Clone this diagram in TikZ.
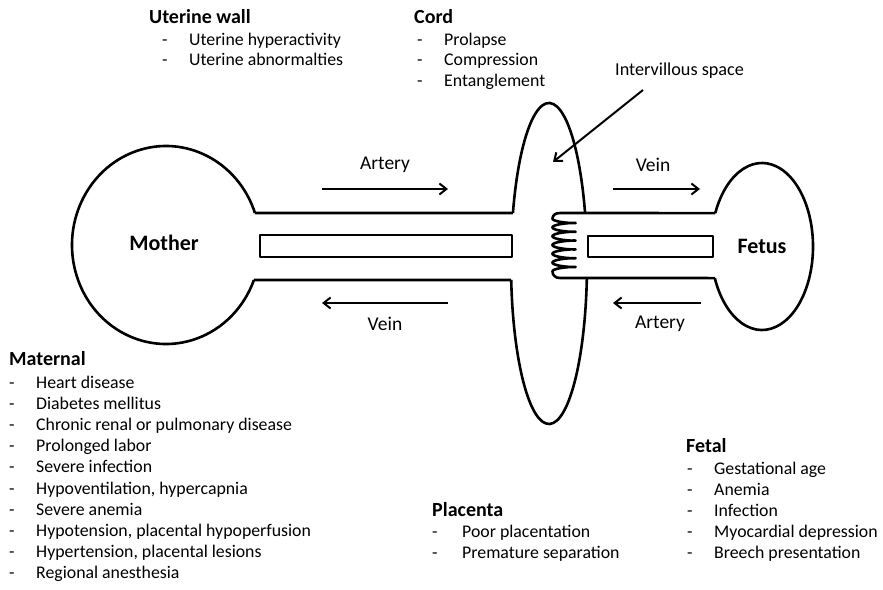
\documentclass[tikz,border=0pt]{standalone}
\usepackage{fontspec}
\setmainfont{Carlito}
\usetikzlibrary{arrows.meta,calc}
\begin{document}
\begin{tikzpicture}[x=1pt,y=-1pt,
  outline/.style={line width=2.6pt,line join=round},
  flow/.style={line width=2pt,-{Straight Barb[length=7pt,width=11pt]}},
  lst/.style={anchor=base west,inner sep=0pt,font=\fontsize{17.8}{21}\selectfont},
  hdr/.style={anchor=base west,inner sep=0pt,font=\fontsize{20}{24}\selectfont\bfseries},
  lbl/.style={anchor=base,inner sep=0pt,font=\fontsize{19.5}{23}\selectfont},
  big/.style={anchor=base,inner sep=0pt,font=\fontsize{22}{26}\selectfont\bfseries}]
\useasboundingbox (0,0) rectangle (883,589);

% centres
\coordinate (mc) at (166,245);
\coordinate (pc) at (549,263.5);
\coordinate (fc) at (762,246.5);

% mother
\draw[outline] (mc) ++(-18.86:94 and 99) coordinate (mT)
  arc[start angle=-18.86,end angle=-339.3,x radius=94,y radius=99] coordinate (mB);
% placenta
\draw[outline] (pc) ++(198.34:38 and 160.5) coordinate (pLT)
  arc[start angle=198.34,end angle=341.66,x radius=38,y radius=160.5];
\draw[outline] (pc) ++(5.18:38 and 160.5)
  arc[start angle=5.18,end angle=174.1,x radius=38,y radius=160.5] coordinate (pLB);
% fetus
\draw[outline] (fc) ++(203.6:51 and 83.5) coordinate (fT)
  arc[start angle=203.6,end angle=517.8,x radius=51,y radius=83.5] coordinate (fB);

% maternal tube
\draw[outline] (mT) -- (pLT);
\draw[outline] (mB) -- (pLB);
\draw[outline] (260,235) rectangle (512,257);

% fetal tube with coil
\draw[outline] (fT) -- (560,213) .. controls (555,213) and (552.5,215.5) .. (552.5,218.6)
  -- plot[domain=-3.14159:34.5575,samples=400,variable=\t]
     ({564+11.5*cos(\t r)},{223+1.4*\t-1.6*sin(\t r)})
  .. controls (552.5,275) and (555,278) .. (560,278) -- (fB);
\draw[outline] (588,236) rectangle (713,257);

% flow arrows
\coordinate (a1s) at (322,189); \coordinate (a1e) at (448,189);
\coordinate (a2s) at (448,303); \coordinate (a2e) at (322,303);
\coordinate (a3s) at (613,189); \coordinate (a3e) at (700,189);
\coordinate (a4s) at (701,303); \coordinate (a4e) at (613,303);
\draw[flow] (a1s) -- (a1e);
\draw[flow] (a2s) -- (a2e);
\draw[flow] (a3s) -- (a3e);
\draw[flow] (a4s) -- (a4e);
\node[lbl] (l1) at (385,169) {Artery};
\node[lbl] (l2) at (385,330) {Vein};
\node[lbl] (l3) at (653,171) {Vein};
\node[lbl] (l4) at (660,328) {Artery};

% intervillous space
\node[anchor=base west,inner sep=0pt,font=\fontsize{18.2}{22}\selectfont] (iv) at (615,75) {Intervillous space};
\coordinate (ivs) at (643,90);
\coordinate (ive) at (553,162);
\draw[flow] (ivs) -- (ive);

% centre labels
\node[big] (mother) at (164,250) {Mother};
\node[big] (fetus) at (762,253) {Fetus};

% uterine wall
\node[hdr] (uw) at (149,23.5) {Uterine wall};
\foreach \t [count=\i from 0] in {Uterine hyperactivity,Uterine abnormalties}{
  \node[lst] (uwd\i) at (162,{45+20.5*\i}) {-};
  \node[lst] (uwi\i) at (189,{45+20.5*\i}) {\t};}

% cord
\node[hdr] (cd) at (414,23.5) {Cord};
\foreach \t [count=\i from 0] in {Prolapse,Compression,Entanglement}{
  \node[lst] (cdd\i) at (417,{45+20.5*\i}) {-};
  \node[lst] (cdi\i) at (444,{45+20.5*\i}) {\t};}

% maternal
\node[hdr] (mat) at (9,365.5) {Maternal};
\foreach \t [count=\i from 0] in {Heart disease,Diabetes mellitus,Chronic renal or pulmonary disease,Prolonged labor,Severe infection,{Hypoventilation, hypercapnia},Severe anemia,{Hypotension, placental hypoperfusion},{Hypertension, placental lesions},Regional anesthesia}{
  \node[lst] (matd\i) at (9,{388+21.2*\i}) {-};
  \node[lst] (mati\i) at (36,{388+21.2*\i}) {\t};}

% placenta
\node[hdr] (pl) at (432,516.4) {Placenta};
\foreach \t [count=\i from 0] in {Poor placentation,Premature separation}{
  \node[lst] (pld\i) at (432,{537.6+21.2*\i}) {-};
  \node[lst] (pli\i) at (462,{537.6+21.2*\i}) {\t};}

% fetal
\node[hdr] (fe) at (686,452) {Fetal};
\foreach \t [count=\i from 0] in {Gestational age,Anemia,Infection,Myocardial depression,Breech presentation}{
  \node[lst] (fed\i) at (687,{474+21.2*\i}) {-};
  \node[lst] (fei\i) at (714,{474+21.2*\i}) {\t};}
\end{tikzpicture}
\end{document}
